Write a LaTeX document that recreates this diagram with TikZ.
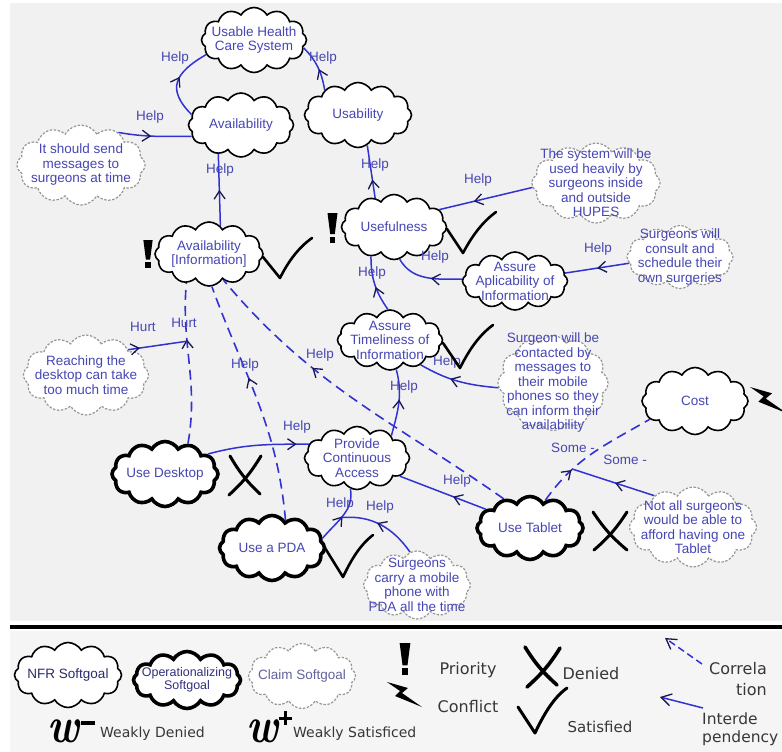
\documentclass[tikz,border=0pt]{standalone}
\usepackage{fontspec}
\newfontfamily\diagfont{Liberation Sans}
\newfontfamily\keyfont{DejaVu Sans}
\usetikzlibrary{shapes.symbols,arrows.meta,decorations.markings}

\definecolor{panel}{RGB}{241,241,241}
\definecolor{keypanel}{RGB}{245,245,245}
\definecolor{linkblue}{RGB}{50,50,212}
\definecolor{goalblue}{RGB}{70,70,180}
\definecolor{claimgray}{RGB}{150,150,150}
\definecolor{keytext}{RGB}{55,55,55}
\definecolor{tipcol}{RGB}{25,25,80}

\tikzset{
  puff/.style 2 args={cloud, cloud puffs=12, cloud puff arc=120, cloud ignores aspect,
     minimum width=#1pt, minimum height=#2pt, inner sep=0pt, fill=white},
  nfr/.style 2 args={puff={#1}{#2}, draw=black, line width=1.6pt},
  oper/.style 2 args={puff={#1}{#2}, draw=black, line width=3.6pt},
  claim/.style 2 args={puff={#1}{#2}, draw=claimgray, line width=1.2pt, dash pattern=on 2.4pt off 1.6pt},
  gtext/.style={text=goalblue, font=\diagfont\fontsize{13.5}{14.5}\selectfont, align=center, inner sep=0pt},
  lbl/.style={text=goalblue, font=\diagfont\fontsize{13.5}{14}\selectfont, inner sep=0pt},
  tipat/.style={postaction={decorate}, decoration={markings,
     mark=at position #1 with {\arrow{Straight Barb[length=8pt, width=11pt, line width=1.3pt, color=tipcol]}}}},
  help/.style={draw=linkblue, line width=1.5pt, tipat=#1},
  help/.default=0.5,
  corr/.style={draw=linkblue, line width=1.6pt, dash pattern=on 10pt off 6pt, tipat=#1},
  corr/.default=0.5,
  satmark/.style={draw=black, line width=2.6pt, line cap=round, line join=round},
  deniedmark/.style={draw=black, line width=3pt, line cap=round},
  keylbl/.style={text=keytext, font=\keyfont\fontsize{16}{19}\selectfont, inner sep=0pt},
  keytip/.style={-{Straight Barb[length=10pt,width=12pt,line width=1.3pt,color=tipcol]}},
  prioritymark/.pic={
    \fill[black] (-5,0) -- (5,0) -- (2.3,21) -- (-2.3,21) -- cycle;
    \fill[black] (-2.9,23.5) rectangle (2.9,30);
  },
  conflictmark/.pic={
    \fill[black] (0,0) -- (21,6) -- (15,11) -- (35,25) -- (8,14) -- (13,9) -- cycle;
  }
}

\begin{document}
\begin{tikzpicture}[x=1pt, y=-1pt]
\useasboundingbox (0,0) rectangle (782,752);
% panels
\fill[white] (0,0) rectangle (782,752);
\fill[panel] (10,3) rectangle (782,621);
\fill[keypanel] (10,631) rectangle (782,752);
\draw[line width=4pt] (10,627) -- (782,627);

% softgoals
\node[nfr={105}{65}, label={[gtext]center:{Usable Health\\Care System}}] (uhcs) at (254,40) {};
\node[nfr={107}{65}, label={[gtext]center:{Usability}}] (usab) at (358,115) {};
\node[nfr={105}{64}, label={[gtext]center:{Availability}}] (avail) at (241,125) {};
\node[claim={128}{80}, label={[gtext]center:{It should send\\messages to\\surgeons at time}}] (claimSend) at (81,165) {};
\node[nfr={108}{64}, label={[gtext]center:{Availability\\{[}Information{]}}}] (availInfo) at (209,254) {};
\node[nfr={105}{65}, label={[gtext]center:{Usefulness}}] (usef) at (394,227) {};
\node[claim={128}{80}, label={[gtext]center:{The system will be\\used heavily by\\surgeons inside\\and outside\\HUPES}}] (claimSys) at (596,183) {};
\node[nfr={105}{58}, label={[gtext]center:{Assure\\Aplicability of\\Information}}] (assureApl) at (515,281) {};
\node[claim={106}{63}, label={[gtext]center:{Surgeons will\\consult and\\schedule their\\own surgeries}}] (claimConsult) at (680,257) {};
\node[nfr={105}{60}, label={[gtext]center:{Assure\\Timeliness of\\Information}}] (assureTime) at (390,340) {};
\node[claim={110}{95}, label={[gtext]center:{Surgeon will be\\contacted by\\messages to\\their mobile\\phones so they\\can inform their\\availability}}] (claimContact) at (553,383) {};
\node[claim={125}{80}, label={[gtext]center:{Reaching the\\desktop can take\\too much time}}] (claimReach) at (86,375) {};
\node[nfr={105}{63}, label={[gtext]center:{Provide\\Continuous\\Access}}] (pca) at (357,458) {};
\node[oper={106}{65}, label={[gtext]center:{Use Desktop}}] (useDesk) at (165,474) {};
\node[oper={105}{65}, label={[gtext]center:{Use a PDA}}] (usePDA) at (272,548) {};
\node[claim={107}{68}, label={[gtext]center:{Surgeons\\carry a mobile\\phone with\\PDA all the time}}] (claimCarry) at (417,585) {};
\node[oper={106}{63}, label={[gtext]center:{Use Tablet}}] (useTab) at (530,528) {};
\node[claim={127}{80}, label={[gtext]center:{Not all surgeons\\would be able to\\afford having one\\Tablet}}] (claimAfford) at (693,527) {};
\node[nfr={106}{67}, label={[gtext]center:{Cost}}] (cost) at (695,401) {};

% interdependencies
\draw[help=0.55] (avail.168) to[out=135,in=210,looseness=1.5] (uhcs.197);
\node[lbl] (h1) at (175,58) {Help};
\draw[help=0.45] (usab.143) to[out=100,in=-45] (uhcs.351);
\node[lbl] (h2) at (323,58) {Help};
\draw[help=0.45] (claimSend.41) to[out=-10,in=180] (avail.193);
\node[lbl] (h3) at (150,117) {Help};
\draw[help=0.5] (availInfo.68) -- (avail.232);
\node[lbl] (h4) at (220,170) {Help};
\draw[help=0.35] (usef.123) -- (usab.287);
\node[lbl] (h5) at (375,165) {Help};
\draw[help=0.63] (claimSys.184) -- (usef.21);
\node[lbl] (h6) at (478,180) {Help};
\draw[help=0.45] (assureApl.178) to[out=180,in=-60] (usef.280);
\node[lbl] (h7) at (435,257) {Help};
\draw[help=0.5] (claimConsult.187) -- (assureApl.9);
\node[lbl] (h8) at (598,249) {Help};
\draw[help=0.45] (assureTime.94) to[out=125,in=-90] (usef.232);
\node[lbl] (h9) at (372,273) {Help};
\draw[help=0.6] (claimContact.185) to[out=175,in=-30] (assureTime.321);
\node[lbl] (h10) at (447,362) {Help};
\draw[help=0.55] (pca.33) to[out=75,in=-75] (assureTime.282);
\node[lbl] (h11) at (404,387) {Help};
\draw[help=0.88] (useDesk.25) to[out=15,in=180] (pca.164);
\node[lbl] (h12) at (297,427) {Help};
\draw[help=0.5] (usePDA.11) to[out=50,in=-80] coordinate[pos=0.45] (pdaJoin) (pca.258);
\node[lbl] (h13) at (340,504) {Help};
\draw[help=0.55] (claimCarry.102) to[out=125,in=5] (pdaJoin);
\node[lbl] (h14) at (380,507) {Help};
\draw[help=0.38] (useTab.157) -- (pca.337);
\node[lbl] (h15) at (457,481) {Help};

% correlations
\draw[corr=0.65] (useTab.132) to[out=145,in=-50] (availInfo.299);
\node[lbl] (h16) at (320,355) {Help};
\draw[corr=0.6] (usePDA.64) to[out=95,in=-70] (availInfo.275);
\node[lbl] (h17) at (245,365) {Help};
\draw[corr=0.65] (useDesk.53) to[out=80,in=265] coordinate[pos=0.65] (hurtJoin) (availInfo.232);
\node[lbl] (h18) at (184,323) {Hurt};
\draw[help=0.2] (claimReach.31) -- (hurtJoin);
\node[lbl] (h19) at (143,327) {Hurt};
\draw[corr=0.3] (useTab.61) to[out=55,in=210] coordinate[pos=0.3] (someJoin) (cost.202);
\node[lbl] (h20) at (573,448) {Some -};
\draw[help=0.48] (claimAfford.141) -- (someJoin);
\node[lbl] (h21) at (625,460) {Some -};

% evaluation marks
\pic[scale=0.93] at (148,240) {prioritymark};
\pic at (332.5,213) {prioritymark};
\draw[satmark] (263,257) -- (280,278) .. controls (288,262) and (298,248) .. (312,238);
\draw[satmark] (447,229) -- (463,253) .. controls (471,238) and (481,223) .. (496,212);
\draw[satmark] (443,343) -- (460,368) .. controls (468,352) and (478,336) .. (493,325);
\draw[satmark] (325,548) -- (343,577) .. controls (351,560) and (360,545) .. (373,535);
\draw[deniedmark] (230,456) to[bend right=8] (260,494);
\draw[deniedmark] (261,456) to[bend left=8] (229,495);
\draw[deniedmark] (593,512) to[bend right=8] (627,550);
\draw[deniedmark] (627,512) to[bend left=8] (594,550);
\pic[scale=1.05] at (750,387) {conflictmark};

% legend
\node[nfr={107}{65}, label={[gtext, text=goalblue!60!black]center:{NFR Softgoal}}] (kNfr) at (68,675) {};
\node[oper={107}{57}, label={[gtext, text=goalblue!70!black, font=\diagfont\fontsize{12.5}{12.5}\selectfont]center:{Operationalizing\\Softgoal}}] (kOper) at (187,680) {};
\node[claim={107}{65}, label={[gtext, text=goalblue!50!gray]center:{Claim Softgoal}}] (kClaim) at (302,676) {};

\pic[scale=1.07] at (405,643) {prioritymark};
\pic at (387,682) {conflictmark};
\node[keylbl] (kPri) at (468,670) {Priority};
\node[keylbl] (kCon) at (468,707) {Conflict};
\draw[deniedmark, line width=3.6pt] (525,647) to[bend right=8] (557,685);
\draw[deniedmark, line width=3.6pt] (560,648) to[bend left=8] (527,687);
\node[keylbl] (kDen) at (591,674) {Denied};
\draw[satmark, line width=3pt] (518,707) -- (535,733) .. controls (543,716) and (553,698) .. (567,688);
\node[keylbl, font=\keyfont\fontsize{15}{18}\selectfont] (kSat) at (600,727) {Satisfied};

\coordinate (kCorrTail) at (702,664);
\coordinate (kCorrTip) at (665,638);
\draw[linkblue, line width=1.5pt, dash pattern=on 7pt off 4pt, keytip] (kCorrTail) -- (kCorrTip);
\node[keylbl, align=right, anchor=east, font=\keyfont\fontsize{16}{21}\selectfont] (kCorr) at (767,679) {Correla\\tion};
\coordinate (kIntTail) at (703,708);
\coordinate (kIntTip) at (660,697);
\draw[linkblue, line width=1.5pt, keytip] (kIntTail) -- (kIntTip);
\node[keylbl, align=left, anchor=west, font=\keyfont\fontsize{15.5}{18}\selectfont] (kInt) at (702,729) {Interde\\pendency};

\node[inner sep=0pt, font=\fontsize{42}{42}\selectfont\bfseries\itshape] (kWd) at (64,731) {\scalebox{1}[1.2]{w}};
\fill (81,721) rectangle (95,724.5);
\node[keylbl, anchor=west, font=\keyfont\fontsize{14}{16}\selectfont] (kWdTxt) at (100,734) {Weakly Denied};
\node[inner sep=0pt, font=\fontsize{42}{42}\selectfont\bfseries\itshape] (kWs) at (263,731) {\scalebox{1}[1.2]{w}};
\fill (279,716.5) rectangle (292,719.5);
\fill (284,711) rectangle (287,725);
\node[keylbl, anchor=west, font=\keyfont\fontsize{14}{16}\selectfont] (kWsTxt) at (293,734) {Weakly Satisficed};
\end{tikzpicture}
\end{document}
